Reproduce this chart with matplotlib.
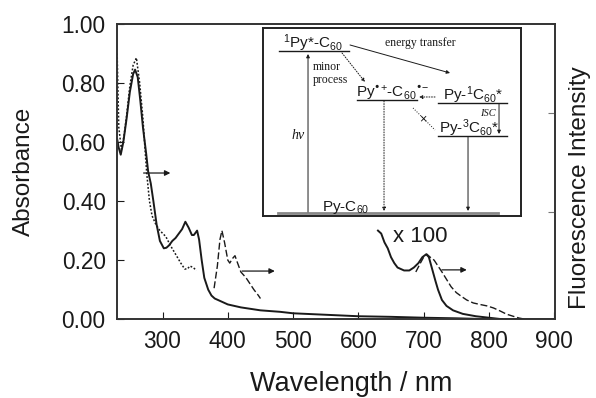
import matplotlib.pyplot as plt
import numpy as np

# --- data -----------------------------------------------------------------
# absorbance, Py-C60 (solid)
abs_wl = [230.5, 233, 236, 240, 245, 250, 255, 258, 262, 266, 270, 275, 278,
          282, 286, 291, 296, 302, 306, 310, 315, 320, 325, 330, 335, 340, 345,
          348, 353, 356, 360, 364, 370, 375, 380, 390, 400, 420, 450, 480, 500,
          550, 600, 650, 700, 750, 800, 900]
abs_solid = [0.61, 0.58, 0.557, 0.60, 0.68, 0.77, 0.83, 0.845, 0.82, 0.74, 0.65,
             0.56, 0.50, 0.46, 0.40, 0.32, 0.265, 0.24, 0.242, 0.25, 0.265, 0.275,
             0.29, 0.305, 0.33, 0.31, 0.285, 0.285, 0.30, 0.27, 0.20, 0.14, 0.10,
             0.08, 0.07, 0.06, 0.05, 0.04, 0.03, 0.025, 0.02, 0.015, 0.01, 0.008,
             0.005, 0.003, 0.0, 0.0]

# absorbance, reference (dotted)
ref_wl = [230.5, 233, 237, 241, 245, 250, 255, 260, 265, 270, 274, 276, 280,
          284, 290, 296, 305, 312, 320, 328, 334, 338, 342, 347, 352]
abs_ref = [0.90, 0.65, 0.575, 0.62, 0.69, 0.79, 0.86, 0.885, 0.80, 0.68, 0.55,
           0.49, 0.40, 0.35, 0.32, 0.30, 0.28, 0.25, 0.22, 0.19, 0.17, 0.17,
           0.18, 0.175, 0.165]

# pyrene fluorescence (dashed)
pyfl_wl = [379, 384, 388, 391, 395, 400, 403, 407, 411, 415, 420, 428, 434, 440,
           447, 450]
pyfl = [0.105, 0.18, 0.27, 0.30, 0.26, 0.20, 0.19, 0.205, 0.215, 0.19, 0.16,
        0.14, 0.12, 0.10, 0.08, 0.07]

# C60 fluorescence x100, Py-C60 (solid)
c60_wl = [630, 635, 640, 645, 650, 655, 660, 670, 678, 685, 692, 698, 704, 708,
          713, 718, 722, 728, 735, 745, 760, 780, 800, 820]
c60_solid = [0.30, 0.29, 0.26, 0.24, 0.21, 0.19, 0.175, 0.165, 0.165, 0.175,
             0.19, 0.21, 0.22, 0.21, 0.17, 0.13, 0.10, 0.065, 0.045, 0.03,
             0.018, 0.01, 0.005, 0.0]

# C60 fluorescence x100, reference (dashed)
c60r_wl = [688, 695, 700, 705, 710, 716, 722, 728, 735, 742, 750, 758, 766, 776,
           786, 797, 807, 817, 827, 837, 846, 855]
c60_ref = [0.16, 0.19, 0.21, 0.22, 0.21, 0.20, 0.18, 0.16, 0.135, 0.11, 0.09,
           0.077, 0.065, 0.055, 0.05, 0.045, 0.038, 0.028, 0.017, 0.01, 0.004, 0.0]

xticks = [300, 400, 500, 600, 700, 800, 900]
yticks = [0.0, 0.2, 0.4, 0.6, 0.8, 1.0]

plt.rcParams['font.family'] = ['Liberation Sans', 'DejaVu Sans']
plt.rcParams['mathtext.default'] = 'regular'
ink = '#1a1a1a'

fig = plt.figure(figsize=(5.96, 3.98), dpi=100)
ax = fig.add_axes([0.196, 0.198, 0.735, 0.742])
ax2 = ax.twinx()

ax.plot(abs_wl, abs_solid, color=ink, lw=1.4)
ax.plot(ref_wl, abs_ref, color=ink, lw=1.1, ls=(0, (1.2, 1.2)))
ax2.plot(pyfl_wl, pyfl, color=ink, lw=1.0, ls=(0, (5, 2)))
ax2.plot(c60_wl, c60_solid, color=ink, lw=1.4)
ax2.plot(c60r_wl, c60_ref, color=ink, lw=1.0, ls=(0, (5, 2)))

# arrows pointing to the right-hand axis
for x0, x1, y in [(271, 312, 0.495), (422, 472, 0.163), (728, 766, 0.167)]:
    ax.annotate('', xy=(x1, y), xytext=(x0, y),
                arrowprops=dict(arrowstyle='-|>', color=ink, lw=0.9,
                                mutation_scale=8, shrinkA=0, shrinkB=0))
ax.text(653, 0.28, 'x 100', fontsize=16, color=ink, va='center')

ax.set_xlim(230, 901)
ax.set_ylim(0, 1.0)
ax2.set_ylim(0, 1.0)
ax.set_xticks(xticks)
ax.set_yticks(yticks)
ax.set_yticklabels(['%.2f' % v for v in yticks])
ax2.set_yticks([0.363, 0.699])
ax2.set_yticklabels([])
ax.tick_params(direction='in', length=5, width=0.8, labelsize=16.3, pad=8,
               colors=ink)
ax2.tick_params(direction='in', length=5, width=0.8, colors='#777777')
for a in (ax, ax2):
    for s in a.spines.values():
        s.set_color('#333333')
        s.set_linewidth(1.2)

fig.text(0.040, 0.570, 'Absorbance', rotation=90, ha='center', va='center',
         fontsize=17.5, color=ink)
fig.text(0.973, 0.528, 'Fluorescence Intensity', rotation=90, ha='center',
         va='center', fontsize=17.5, color=ink)
fig.text(0.589, 0.035, 'Wavelength / nm', ha='center', va='center',
         fontsize=19.5, color=ink)

# --- inset: energy diagram -------------------------------------------------
ins = fig.add_axes([0.4413, 0.4573, 0.4329, 0.4724])
ins.set_xlim(0, 258)
ins.set_ylim(188, 0)
ins.set_xticks([])
ins.set_yticks([])
for s in ins.spines.values():
    s.set_color('#222222')
    s.set_linewidth(1.4)

serif = ['Liberation Serif', 'DejaVu Serif']
lw_lvl = 1.0


def level(x0, x1, y, **kw):
    ins.plot([x0, x1], [y, y], color=ink, lw=lw_lvl, **kw)


def arrow(p0, p1, ls='-'):
    ins.annotate('', xy=p1, xytext=p0,
                 arrowprops=dict(arrowstyle='-|>', color=ink, lw=0.7, ls=ls,
                                 mutation_scale=5, shrinkA=0, shrinkB=0))


level(16, 86, 23)
level(94, 154, 72)
level(175, 244, 75)
level(175, 244, 108)
ins.plot([15, 235], [185, 185], color='#888888', lw=2.0)

ins.text(20, 20, r'$^1$Py*-C$_{60}$', fontsize=11, color=ink)
ins.text(93, 69, r'Py$^{•{+}}$-C$_{60}$$^{•{-}}$', fontsize=11, color=ink)
ins.text(180, 72, r'Py-$^1$C$_{60}$*', fontsize=11, color=ink)
ins.text(176, 105, r'Py-$^3$C$_{60}$*', fontsize=11, color=ink)
ins.text(59, 183, r'Py-C$_{60}$', fontsize=11, color=ink)

ins.text(157, 15, 'energy transfer', fontsize=8.5, family=serif, ha='center',
         va='center', color=ink)
ins.text(50, 39, 'minor', fontsize=8.5, family=serif, va='center', color=ink)
ins.text(50, 52, 'process', fontsize=8.5, family=serif, va='center', color=ink)
ins.text(233, 86, 'ISC', fontsize=7.5, family=serif, style='italic',
         ha='right', va='center', color=ink)
ins.text(42, 108, 'hν', fontsize=10, family=serif, style='italic',
         ha='right', va='center', color=ink)

arrow((87, 17), (187, 45))
arrow((79, 25), (102, 54), ls=':')
arrow((172, 69), (156, 69), ls=':')
arrow((236, 76), (236, 106))
arrow((45, 184), (45, 26))
arrow((121, 73), (121, 183), ls=':')
arrow((205, 109), (205, 183))
ins.plot([150, 172], [80, 102], color=ink, lw=0.7, ls=':')
ins.text(160, 91, '×', fontsize=9, ha='center', va='center', color=ink)

plt.savefig('out.png', dpi=100)
